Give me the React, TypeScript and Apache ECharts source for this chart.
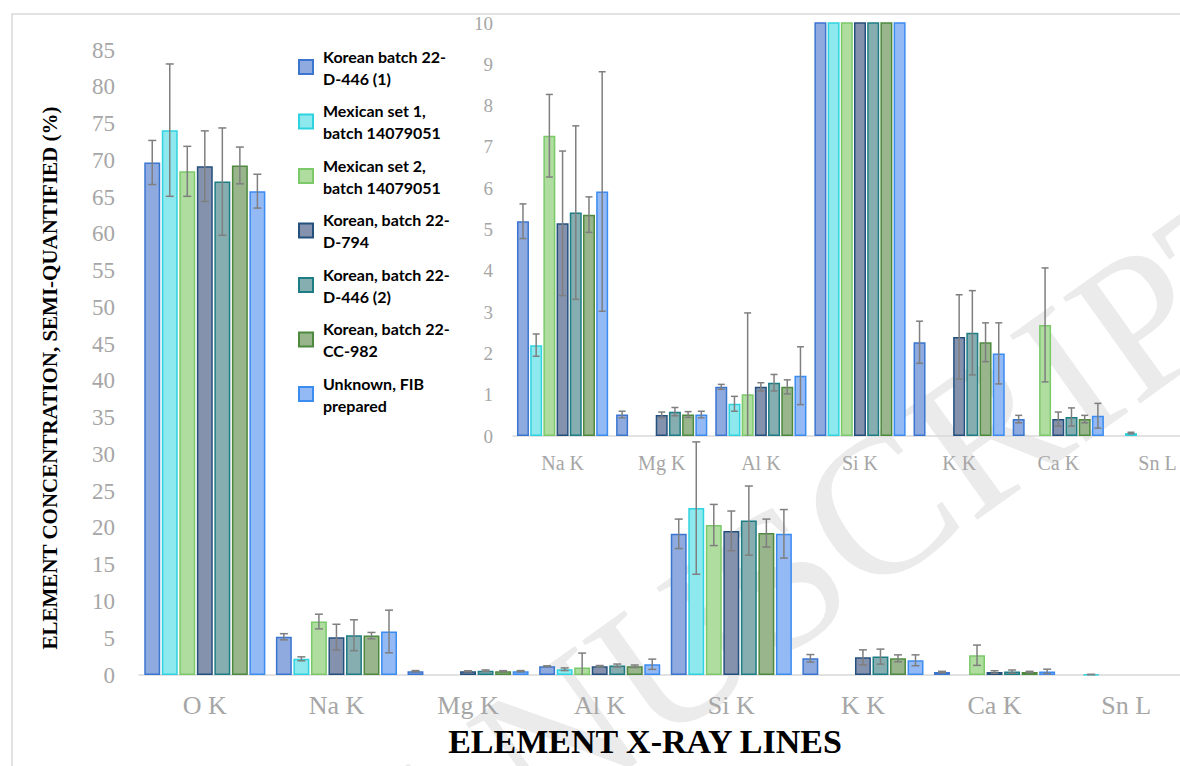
import React, { useEffect, useRef } from 'react';
import * as echarts from 'echarts';

const categories = ['O K', 'Na K', 'Mg K', 'Al K', 'Si K', 'K K', 'Ca K', 'Sn L'];
const insetCategories = categories.slice(1);

const seriesNames = [
  'Korean batch 22-D-446 (1)',
  'Mexican set 1, batch 14079051',
  'Mexican set 2, batch 14079051',
  'Korean, batch 22-D-794',
  'Korean, batch 22-D-446 (2)',
  'Korean, batch 22-CC-982',
  'Unknown, FIB prepared',
];
const legendLabels = [
  'Korean batch 22-\nD-446 (1)',
  'Mexican set 1,\nbatch 14079051',
  'Mexican set 2,\nbatch 14079051',
  'Korean, batch 22-\nD-794',
  'Korean, batch 22-\nD-446 (2)',
  'Korean, batch 22-\nCC-982',
  'Unknown, FIB\nprepared',
];

// values per category: O K, Na K, Mg K, Al K, Si K, K K, Ca K, Sn L
const korean446a = [69.7, 5.2, 0.52, 1.19, 19.2, 2.27, 0.41, null];
const korean446aErr = [3.0, 0.42, 0.08, 0.06, 2.0, 0.51, 0.09, 0];
const mexican1 = [74.1, 2.2, null, 0.78, 22.7, null, null, 0.07];
const mexican1Err = [9.0, 0.27, 0, 0.18, 9.0, 0, 0, 0.02];
const mexican2 = [68.5, 7.27, null, 1.01, 20.4, null, 2.69, null];
const mexican2Err = [3.4, 1.0, 0, 1.97, 2.8, 0, 1.38, 0];
const korean794 = [69.2, 5.15, 0.51, 1.19, 19.6, 2.4, 0.41, null];
const korean794Err = [4.8, 1.75, 0.07, 0.1, 2.7, 1.02, 0.17, 0];
const korean446b = [67.1, 5.41, 0.59, 1.29, 21.0, 2.5, 0.46, null];
const korean446bErr = [7.3, 2.1, 0.1, 0.2, 4.7, 1.02, 0.22, 0];
const korean982 = [69.3, 5.36, 0.52, 1.19, 19.3, 2.27, 0.41, null];
const korean982Err = [2.5, 0.43, 0.07, 0.17, 1.9, 0.47, 0.09, 0];
const unknownFib = [65.8, 5.92, 0.52, 1.46, 19.2, 2.0, 0.49, null];
const unknownFibErr = [2.3, 2.9, 0.08, 0.7, 3.3, 0.74, 0.3, 0];

const values = [korean446a, mexican1, mexican2, korean794, korean446b, korean982, unknownFib];
const errors = [korean446aErr, mexican1Err, mexican2Err, korean794Err, korean446bErr, korean982Err, unknownFibErr];

const fills = ['#8eaadf', '#8ee9ef', '#afdc9f', '#8592ad', '#86aeb0', '#98b58c', '#94baf6'];
const borders = ['#3a76d0', '#2fd3df', '#7cc96a', '#24507e', '#1c7d84', '#4d8a3e', '#3b8cf0'];

const CAT_GAP = 0.08;
const BAR_GAP = 0.1;
const N = seriesNames.length;

function errData(startCat: number, ymax: number) {
  const out: number[][] = [];
  values.forEach((vals, i) => {
    for (let j = startCat; j < vals.length; j++) {
      const v = vals[j];
      const e = errors[i][j];
      if (v == null || !e) continue;
      if (v - e >= ymax) continue;
      out.push([j - startCat, v - e, v + e, i]);
    }
  });
  return out;
}

function makeRender(ymax: number, capHalf: number) {
  return (params: any, api: any) => {
    const j = api.value(0);
    const rawLo = api.value(1);
    const rawHi = api.value(2);
    const i = api.value(3);
    const lo = Math.max(0, rawLo);
    const hi = Math.min(ymax, rawHi);
    const band = api.size([1, 0])[0];
    const usable = band * (1 - CAT_GAP);
    const bw = usable / (N + (N - 1) * BAR_GAP);
    const cx = api.coord([j, 0])[0] - usable / 2 + i * bw * (1 + BAR_GAP) + bw / 2;
    const yl = api.coord([j, lo])[1];
    const yh = api.coord([j, hi])[1];
    const style = { stroke: '#7f7f7f', lineWidth: 1.5, fill: null };
    const children: any[] = [
      { type: 'line', shape: { x1: cx, y1: yh, x2: cx, y2: yl }, style },
    ];
    if (rawHi <= ymax) children.push({ type: 'line', shape: { x1: cx - capHalf, y1: yh, x2: cx + capHalf, y2: yh }, style });
    if (rawLo >= 0) children.push({ type: 'line', shape: { x1: cx - capHalf, y1: yl, x2: cx + capHalf, y2: yl }, style });
    return { type: 'group', children };
  };
}

const GRAY = '#a6a6a6';
const SERIF = 'Liberation Serif';

export default function App() {
  const ref = useRef<HTMLDivElement>(null);
  useEffect(() => {
    document.body.style.margin = '0';
    if (!ref.current) return;
    const chart = echarts.init(ref.current, null, { renderer: 'svg' });

    const barSeries: any[] = [];
    values.forEach((vals, i) => {
      barSeries.push({
        type: 'bar',
        name: seriesNames[i],
        xAxisIndex: 0,
        yAxisIndex: 0,
        data: vals.map((v) => (v == null ? '-' : v)),
        barGap: `${BAR_GAP * 100}%`,
        barCategoryGap: `${CAT_GAP * 100}%`,
        itemStyle: { color: fills[i], borderColor: borders[i], borderWidth: 1.5 },
        emphasis: { disabled: true },
        z: 2,
      });
    });
    values.forEach((vals, i) => {
      barSeries.push({
        type: 'bar',
        name: seriesNames[i],
        xAxisIndex: 1,
        yAxisIndex: 1,
        data: vals.slice(1).map((v) => (v == null ? '-' : v)),
        barGap: `${BAR_GAP * 100}%`,
        barCategoryGap: `${CAT_GAP * 100}%`,
        itemStyle: { color: fills[i], borderColor: borders[i], borderWidth: 1.5 },
        emphasis: { disabled: true },
        clip: true,
        z: 2,
      });
    });

    const option: any = {
      animation: false,
      backgroundColor: '#ffffff',
      graphic: [
        {
          type: 'text',
          x: 1285,
          y: 217,
          rotation: 0.62,
          z: -10,
          silent: true,
          style: {
            text: 'ACCEPTED MANUSCRIPT',
            font: `200px "${SERIF}"`,
            fill: '#ebebeb',
            align: 'right',
            verticalAlign: 'middle',
            textAlign: 'right',
            textVerticalAlign: 'middle',
          },
        },
        {
          type: 'rect',
          z: -5,
          silent: true,
          shape: { x: 12, y: 14, width: 1300, height: 900 },
          style: { fill: null, stroke: '#d9d9d9', lineWidth: 1.5 },
        },
        {
          type: 'text',
          x: 50,
          y: 378,
          rotation: Math.PI / 2,
          style: {
            text: 'ELEMENT CONCENTRATION, SEMI-QUANTIFIED (%)',
            font: `bold 21px "${SERIF}"`,
            fill: '#000',
            align: 'center',
            verticalAlign: 'middle',
            textAlign: 'center',
            textVerticalAlign: 'middle',
          },
        },
        {
          type: 'text',
          x: 645,
          y: 741,
          style: {
            text: 'ELEMENT X-RAY LINES',
            font: `bold 34px "${SERIF}"`,
            fill: '#000',
            align: 'center',
            verticalAlign: 'middle',
            textAlign: 'center',
            textVerticalAlign: 'middle',
          },
        },
      ],
      legend: {
        orient: 'vertical',
        left: 298,
        top: 39,
        padding: 0,
        itemWidth: 14,
        itemHeight: 14,
        itemGap: -1.5,
        icon: 'rect',
        selectedMode: false,
        data: seriesNames,
        formatter: (name: string) => legendLabels[seriesNames.indexOf(name)],
        textStyle: {
          fontFamily: 'Lato',
          fontWeight: 'bold',
          fontSize: 16,
          color: '#000',
          lineHeight: 22,
          padding: [0, 0, 12, 5],
        },
      },
      grid: [
        { left: 139, top: 50, width: 1053, height: 625, containLabel: false, outerBoundsMode: 'none' },
        { left: 513, top: 23, width: 694, height: 413, containLabel: false, outerBoundsMode: 'none' },
      ],
      xAxis: [
        {
          type: 'category',
          gridIndex: 0,
          data: categories,
          axisLine: { lineStyle: { color: '#d9d9d9', width: 1.5 } },
          axisTick: { show: false },
          axisLabel: { interval: 0, color: GRAY, fontFamily: SERIF, fontSize: 26, margin: 17 },
          splitLine: { show: false },
        },
        {
          type: 'category',
          gridIndex: 1,
          data: insetCategories,
          axisLine: { lineStyle: { color: '#d9d9d9', width: 1.5 } },
          axisTick: { show: false },
          axisLabel: { interval: 0, color: GRAY, fontFamily: SERIF, fontSize: 20, margin: 17 },
          splitLine: { show: false },
        },
      ],
      yAxis: [
        {
          type: 'value',
          gridIndex: 0,
          min: 0,
          max: 85,
          interval: 5,
          axisLine: { show: false },
          axisTick: { show: false },
          splitLine: { show: false },
          axisLabel: { color: GRAY, fontFamily: SERIF, fontSize: 23, margin: 24 },
        },
        {
          type: 'value',
          gridIndex: 1,
          min: 0,
          max: 10,
          interval: 1,
          axisLine: { show: false },
          axisTick: { show: false },
          splitLine: { show: false },
          axisLabel: { color: GRAY, fontFamily: SERIF, fontSize: 19, margin: 20 },
        },
      ],
      series: [
        ...barSeries,
        {
          type: 'custom',
          name: 'errMain',
          xAxisIndex: 0,
          yAxisIndex: 0,
          data: errData(0, 85),
          encode: { x: 0, y: [1, 2] },
          renderItem: makeRender(85, 4),
          z: 5,
          silent: true,
        },
        {
          type: 'custom',
          name: 'errInset',
          xAxisIndex: 1,
          yAxisIndex: 1,
          data: errData(1, 10),
          encode: { x: 0, y: [1, 2] },
          renderItem: makeRender(10, 3.5),
          z: 5,
          silent: true,
        },
      ],
    };
    chart.setOption(option);
    return () => chart.dispose();
  }, []);
  return <div ref={ref} style={{ width: 1180, height: 766, position: 'relative' }} />;
}
